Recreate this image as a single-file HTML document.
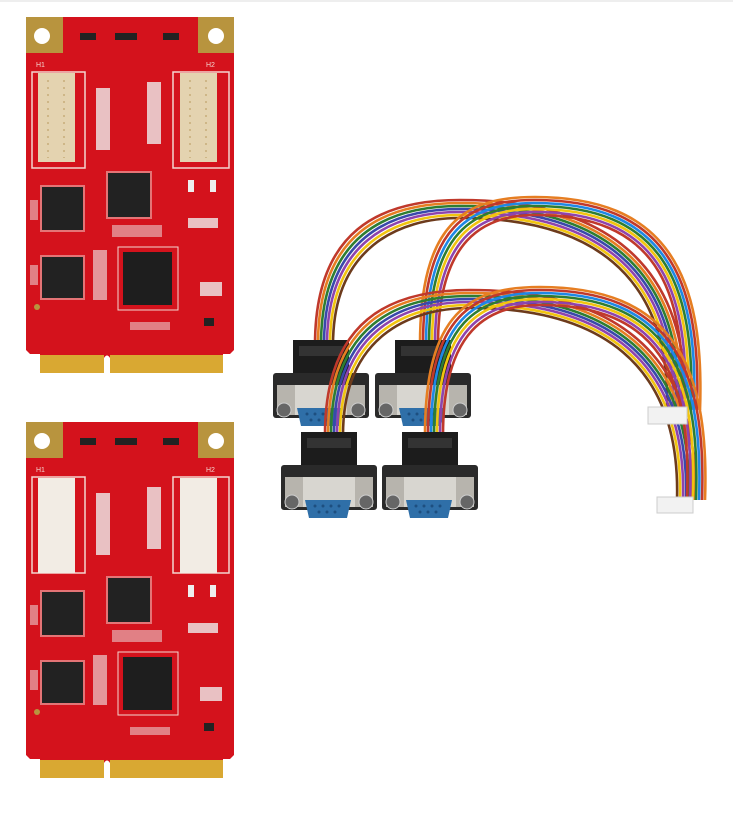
<!DOCTYPE html>
<html><head><meta charset="utf-8"><style>html,body{margin:0;padding:0;background:#fff}svg{display:block}</style></head>
<body>
<svg width="733" height="820" viewBox="0 0 733 820" xmlns="http://www.w3.org/2000/svg">
<defs>
<g id="board">
  <path d="M26 17 H234 V350 L230 354 H223 V373 H110 V358 Q107 353 104 358 V373 H40 V354 H30 L26 350 Z" fill="#d4121c"/>
  <rect x="26" y="17" width="37" height="36" fill="#b8943e"/>
  <rect x="198" y="17" width="36" height="36" fill="#b8943e"/>
  <circle cx="42" cy="36" r="8" fill="#fff"/>
  <circle cx="216" cy="36" r="8" fill="#fff"/>
  <rect x="40" y="355" width="64" height="18" fill="#d9a832"/>
  <rect x="110" y="355" width="113" height="18" fill="#d9a832"/>
  <rect x="80" y="33" width="16" height="7" fill="#222"/><rect x="115" y="33" width="22" height="7" fill="#222"/><rect x="163" y="33" width="16" height="7" fill="#222"/>
  <rect x="32" y="72" width="53" height="96" fill="none" stroke="#f3d5cf" stroke-width="1.5"/>
  <rect x="173" y="72" width="56" height="96" fill="none" stroke="#f3d5cf" stroke-width="1.5"/>
  <rect x="96" y="88" width="14" height="62" fill="#eee" opacity=".8"/>
  <rect x="147" y="82" width="14" height="62" fill="#eee" opacity=".8"/>
  <rect x="40" y="185" width="45" height="47" fill="#f3d5cf" opacity=".5"/>
  <rect x="42" y="187" width="41" height="43" fill="#222"/>
  <rect x="106" y="171" width="46" height="48" fill="#f3d5cf" opacity=".5"/>
  <rect x="108" y="173" width="42" height="44" fill="#222"/>
  <rect x="40" y="255" width="45" height="45" fill="#f3d5cf" opacity=".5"/>
  <rect x="42" y="257" width="41" height="41" fill="#222"/>
  <rect x="118" y="247" width="60" height="63" fill="none" stroke="#f3d5cf" stroke-width="1"/>
  <rect x="123" y="252" width="49" height="53" fill="#1e1e1e"/>
  <rect x="93" y="250" width="14" height="50" fill="#eee" opacity=".6"/>
  <rect x="112" y="225" width="50" height="12" fill="#eee" opacity=".5"/>
  <rect x="30" y="200" width="8" height="20" fill="#eee" opacity=".5"/>
  <rect x="30" y="265" width="8" height="20" fill="#eee" opacity=".5"/>
  <rect x="188" y="180" width="6" height="12" fill="#eee"/><rect x="210" y="180" width="6" height="12" fill="#eee"/>
  <rect x="188" y="218" width="30" height="10" fill="#eee" opacity=".8"/>
  <rect x="200" y="282" width="22" height="14" fill="#eee" opacity=".8"/>
  <rect x="204" y="318" width="10" height="8" fill="#222"/>
  <rect x="130" y="322" width="40" height="8" fill="#eee" opacity=".5"/>
  <circle cx="37" cy="307" r="3" fill="#b8943e"/>
</g>
<g id="dsub">
  <rect x="20" y="0" width="56" height="36" fill="#1c1c1c"/>
  <rect x="26" y="6" width="44" height="10" fill="#333"/>
  <rect x="0" y="33" width="96" height="45" rx="3" fill="#2a2a2a"/>
  <rect x="4" y="45" width="88" height="30" fill="#b7b4ad"/>
  <rect x="22" y="45" width="52" height="30" fill="#d8d6d0"/>
  <circle cx="11" cy="70" r="7" fill="#666" stroke="#ccc"/>
  <circle cx="85" cy="70" r="7" fill="#666" stroke="#ccc"/>
  <path d="M24 68 H70 L66 86 H28 Z" fill="#2f6fa8"/>
  <g fill="#1d4f80"><circle cx="34" cy="74" r="1.5"/><circle cx="42" cy="74" r="1.5"/><circle cx="50" cy="74" r="1.5"/><circle cx="58" cy="74" r="1.5"/><circle cx="38" cy="80" r="1.5"/><circle cx="46" cy="80" r="1.5"/><circle cx="54" cy="80" r="1.5"/></g>
</g>
<g id="bunA">
    <path d="M315 345 C315 230 380 200 460 200 C600 200 690 260 685 410" stroke="#c0392b"/>
    <path d="M318 345 C318 233 383 203 460 203 C598 203 686 262 682 410" stroke="#e67e22"/>
    <path d="M321 345 C321 236 386 206 460 206 C596 206 683 264 679 410" stroke="#2e7d32"/>
    <path d="M324 345 C324 239 389 209 460 209 C594 209 680 266 676 410" stroke="#3949ab"/>
    <path d="M327 345 C327 242 392 212 460 212 C592 212 677 268 673 410" stroke="#8e44ad"/>
    <path d="M330 345 C330 245 395 215 460 215 C590 215 674 270 670 410" stroke="#f1c40f"/>
    <path d="M333 345 C333 248 398 218 460 218 C588 218 671 272 667 410" stroke="#6d3b1c"/>
</g>
<g id="bunB">
    <path d="M315 353 C315 230 360 205 430 205 C560 205 600 280 595 418" stroke="#e67e22"/>
    <path d="M318 353 C318 233 363 208 430 208 C558 208 597 282 592 418" stroke="#c0392b"/>
    <path d="M321 353 C321 236 366 211 430 211 C556 211 594 284 589 418" stroke="#1e88e5"/>
    <path d="M324 353 C324 239 369 214 430 214 C554 214 591 286 586 418" stroke="#2e7d32"/>
    <path d="M327 353 C327 242 372 217 430 217 C552 217 588 288 583 418" stroke="#f1c40f"/>
    <path d="M330 353 C330 245 375 220 430 220 C550 220 585 290 580 418" stroke="#8e44ad"/>
    <path d="M333 353 C333 248 378 223 430 223 C548 223 582 292 577 418" stroke="#c0392b"/>
</g>
</defs>
<line x1="0" y1="1" x2="733" y2="1" stroke="#ddd"/>
<use href="#board"/>
<g>
  <use href="#board" transform="translate(0,405)"/>
  <rect x="38" y="478" width="37" height="95" fill="#f2ece4"/>
  <rect x="180" y="478" width="37" height="95" fill="#f2ece4"/>
</g>
<rect x="38" y="73" width="37" height="89" fill="#e4d3b0"/>
<rect x="180" y="73" width="37" height="89" fill="#e4d3b0"/>
<g stroke="#b89a5e" stroke-width="1" stroke-dasharray="2 5">
  <line x1="48" y1="80" x2="48" y2="158"/><line x1="64" y1="80" x2="64" y2="158"/>
  <line x1="190" y1="80" x2="190" y2="158"/><line x1="206" y1="80" x2="206" y2="158"/>
</g>
<g font-family="Liberation Sans, sans-serif" font-size="7" fill="#f3d5cf">
  <text x="36" y="67">H1</text><text x="206" y="67">H2</text>
  <text x="36" y="472">H1</text><text x="206" y="472">H2</text>
</g>

<g fill="none" stroke-width="2.6">
  <use href="#bunA"/>
  <use href="#bunB" transform="translate(105,-8)"/>
</g>
<use href="#dsub" transform="translate(273,340)"/>
<use href="#dsub" transform="translate(375,340)"/>
<g fill="none" stroke-width="2.6">
  <use href="#bunA" transform="translate(10,90)"/>
  <use href="#bunB" transform="translate(110,82)"/>
</g>
<use href="#dsub" transform="translate(281,432)"/>
<use href="#dsub" transform="translate(382,432)"/>
<rect x="648" y="407" width="39" height="17" fill="#f2f2f2" stroke="#ccc"/>
<rect x="657" y="497" width="36" height="16" fill="#f2f2f2" stroke="#ccc"/>
</svg>
</body></html>
